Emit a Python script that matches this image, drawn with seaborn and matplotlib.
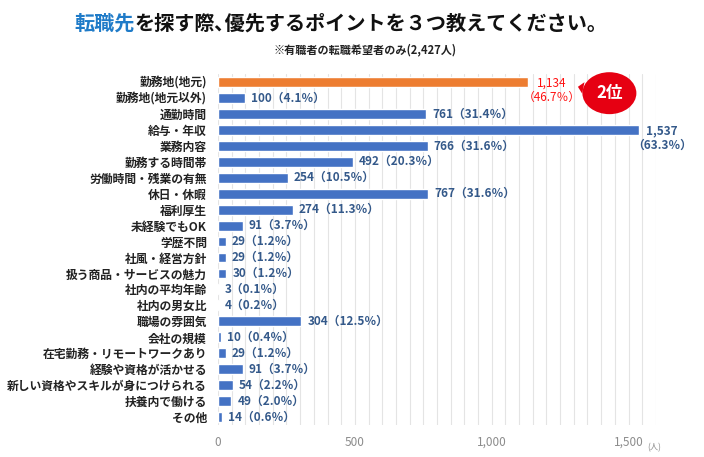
import numpy as np
import pandas as pd
import seaborn as sns
import matplotlib.pyplot as plt
from matplotlib.ticker import MultipleLocator, FuncFormatter

# data
categories = ["勤務地(地元)", "勤務地(地元以外)", "通勤時間", "給与・年収", "業務内容",
              "勤務する時間帯", "労働時間・残業の有無", "休日・休暇", "福利厚生",
              "未経験でもOK", "学歴不問", "社風・経営方針", "扱う商品・サービスの魅力",
              "社内の平均年齢", "社内の男女比", "職場の雰囲気", "会社の規模",
              "在宅勤務・リモートワークあり", "経験や資格が活かせる",
              "新しい資格やスキルが身につけられる", "扶養内で働ける", "その他"]
counts = [1134, 100, 761, 1537, 766, 492, 254, 767, 274, 91, 29, 29, 30,
          3, 4, 304, 10, 29, 91, 54, 49, 14]
percents = [46.7, 4.1, 31.4, 63.3, 31.6, 20.3, 10.5, 31.6, 11.3, 3.7, 1.2, 1.2,
            1.2, 0.1, 0.2, 12.5, 0.4, 1.2, 3.7, 2.2, 2.0, 0.6]
highlight = "勤務地(地元)"

df = pd.DataFrame({"cat": categories, "n": counts, "pct": percents})

sns.set_theme(style="white")
plt.rcParams['font.family'] = ['Noto Sans CJK JP', 'DejaVu Sans']

BLUE = "#4472C4"
ORANGE = "#ED7D31"
LABEL = "#34598A"

fig = plt.figure(figsize=(7.04, 4.57), dpi=100)
ax = fig.add_axes([0.3097, 0.070, 0.622, 0.768])

palette = {c: (ORANGE if c == highlight else BLUE) for c in categories}
sns.barplot(data=df, x="n", y="cat", hue="cat", palette=palette, legend=False,
            orient="h", width=0.62, saturation=1, ax=ax)

ax.set_xlim(0, 1600)
ax.set_ylim(len(categories) - 0.5, -0.5)
ax.xaxis.set_major_locator(MultipleLocator(500))
ax.xaxis.set_minor_locator(MultipleLocator(50))
ax.xaxis.set_major_formatter(FuncFormatter(lambda v, p: f"{v:,.0f}"))
ax.grid(axis="x", which="both", color="#E4E4E4", linewidth=0.8)
ax.set_axisbelow(True)
for s in ax.spines.values():
    s.set_visible(False)
ax.tick_params(axis="both", which="both", length=0)
ax.tick_params(axis="x", colors="#8C8C8C", labelsize=8.5, pad=8)
ax.tick_params(axis="y", labelsize=8.5, pad=8, labelcolor="#222222")
for lab in ax.get_yticklabels():
    lab.set_fontweight("bold")
ax.set_xlabel("")
ax.set_ylabel("")

# value labels
for i, row in df.iterrows():
    if row["cat"] == highlight:
        ax.text(row["n"] + 85, i - 0.35, f"{row['n']:,}\n（{row['pct']:.1f}％）",
                ha="center", va="top", ma="center", fontsize=8.5,
                color="#FF1010", linespacing=1.15)
    elif row["n"] > 1500:
        ax.text(row["n"] + 85, i - 0.35, f"{row['n']:,}\n（{row['pct']:.1f}％）",
                ha="center", va="top", ma="center", fontsize=8.5,
                color=LABEL, fontweight="bold", linespacing=1.15)
    else:
        ax.text(row["n"] + 22, i, f"{row['n']:,}（{row['pct']:.1f}％）",
                ha="left", va="center", fontsize=8.5, color=LABEL,
                fontweight="bold")

# rank badge
ax.annotate("2位", xy=(1315, 0.3), xytext=(1430, 0.7),
            ha="center", va="center", fontsize=12, color="white",
            fontweight="bold",
            bbox=dict(boxstyle="ellipse,pad=0.35", fc="#E60012", ec="none"),
            arrowprops=dict(arrowstyle="wedge,tail_width=0.7", fc="#E60012",
                            ec="none", shrinkA=0, shrinkB=0),
            annotation_clip=False)

ax.text(1595, -0.065, "(人)", transform=ax.get_xaxis_transform(),
        ha="center", va="center", fontsize=6, color="#8C8C8C")

# title, first word in blue
t1 = fig.text(0.105, 0.950, "転職先", fontsize=14.5, fontweight="bold",
              color="#1F7BC8", va="center", ha="left")
ax.annotate("を探す際､優先するポイントを３つ教えてください。", xy=(1, 0.5),
            xycoords=t1, va="center", ha="left", fontsize=14.5,
            fontweight="bold", color="#111111")
fig.text(0.518, 0.890, "※有職者の転職希望者のみ(2,427人)", fontsize=8,
         ha="center", va="center", color="#222222", fontweight="bold")

fig.savefig("out.png", dpi=100)
